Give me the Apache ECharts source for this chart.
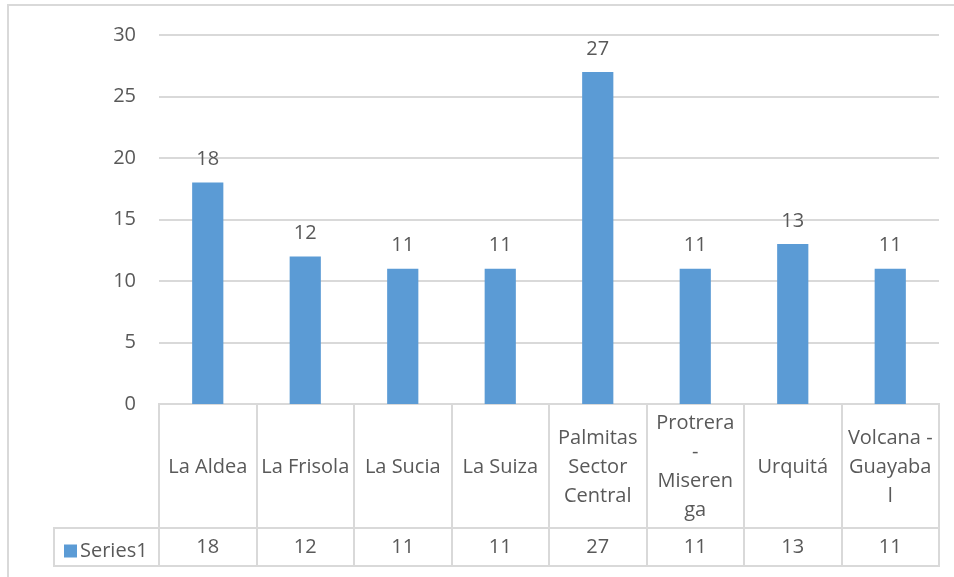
<!DOCTYPE html>
<html>
<head>
<meta charset="utf-8">
<script src="https://cdn.jsdelivr.net/npm/echarts@6/dist/echarts.min.js"></script>
<style>
html,body{margin:0;padding:0;background:#fff;}
#chart{width:954px;height:577px;}
</style>
</head>
<body>
<div id="chart"></div>
<script>
var categories = ['La Aldea', 'La Frisola', 'La Sucia', 'La Suiza', 'Palmitas\nSector\nCentral', 'Protrera\n-\nMiseren\nga', 'Urquitá', 'Volcana -\nGuayaba\nl'];
var values = [18, 12, 11, 11, 27, 11, 13, 11];
var seriesName = 'Series1';
var yTicks = {min: 0, max: 30, interval: 5};

var FONT = 'Open Sans';
var TXT = '#595959';
var LINE = '#d9d9d9';
var BAR = '#5B9BD5';

var chart = echarts.init(document.getElementById('chart'), null, {renderer: 'canvas'});
var option = {
  animation: false,
  backgroundColor: '#fff',
  textStyle: {fontFamily: FONT},
  legend: {
    data: [seriesName],
    left: 59, top: 536,
    icon: 'rect', itemWidth: 13, itemHeight: 13, itemGap: 4,
    textStyle: {fontFamily: FONT, fontSize: 20, color: TXT, padding: [0,0,0,-2]},
    selectedMode: false
  },
  grid: [
    {left: 159, right: 15, top: 35, bottom: 173},
    {left: 159, right: 15, top: 404, height: 124, show: true, borderColor: LINE, borderWidth: 2},
    {left: 159, right: 15, top: 528, height: 38, show: true, borderColor: LINE, borderWidth: 2}
  ],
  xAxis: [
    {type: 'category', gridIndex: 0, data: categories,
     axisLine: {show: false}, axisTick: {show: false},
     axisLabel: {margin: 63, verticalAlign: 'middle', interval: 0, fontFamily: FONT, fontSize: 20, color: TXT, lineHeight: 29}},
    {type: 'category', gridIndex: 1, data: categories,
     axisLine: {show: false}, axisTick: {show: false}, axisLabel: {show: false},
     splitLine: {show: true, interval: 0, lineStyle: {color: LINE, width: 2}}},
    {type: 'category', gridIndex: 2, position: 'top', data: values.map(String),
     axisLine: {show: false}, axisTick: {show: false},
     axisLabel: {inside: true, margin: 19, verticalAlign: 'middle', interval: 0, fontFamily: FONT, fontSize: 20, color: TXT},
     splitLine: {show: true, interval: 0, lineStyle: {color: LINE, width: 2}}}
  ],
  yAxis: [
    {type: 'value', gridIndex: 0, min: yTicks.min, max: yTicks.max, interval: yTicks.interval,
     axisLine: {show: false}, axisTick: {show: false},
     axisLabel: {margin: 23, fontFamily: FONT, fontSize: 20, color: TXT},
     splitLine: {lineStyle: {color: LINE, width: 2}}},
    {type: 'value', gridIndex: 1, show: false},
    {type: 'value', gridIndex: 2, show: false}
  ],
  graphic: [
    {type: 'rect', shape: {x: 54, y: 528, width: 105, height: 38}, style: {fill: 'none', stroke: LINE, lineWidth: 2}, z: 0},
    {type: 'polyline', shape: {points: [[8, 577], [8, 5], [954, 5]]}, style: {fill: 'none', stroke: LINE, lineWidth: 2}, z: 0}
  ],
  series: [{
    name: seriesName, type: 'bar', xAxisIndex: 0, yAxisIndex: 0,
    data: values, barWidth: '32%',
    itemStyle: {color: BAR},
    label: {show: true, position: 'top', distance: 13, fontFamily: FONT, fontSize: 20, color: TXT}
  }]
};
chart.setOption(option);
</script>
</body>
</html>
